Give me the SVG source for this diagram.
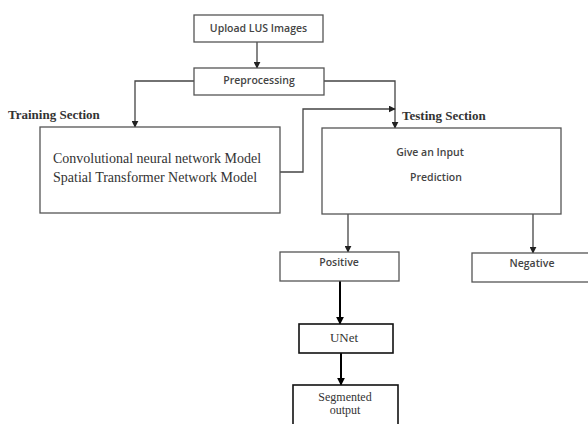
<svg xmlns="http://www.w3.org/2000/svg" width="588" height="424" viewBox="0 0 588 424">
<defs>
<marker id="ah" viewBox="0 0 10 10" refX="9" refY="5" markerWidth="7" markerHeight="7" markerUnits="userSpaceOnUse" orient="auto">
<path d="M0,0 L10,5 L0,10 Z" fill="#222"/>
</marker>
<marker id="ahb" viewBox="0 0 10 10" refX="9" refY="5" markerWidth="8" markerHeight="8" markerUnits="userSpaceOnUse" orient="auto">
<path d="M0,0 L10,5 L0,10 Z" fill="#000"/>
</marker>
<style>
.box{fill:#fff;stroke:#555;stroke-width:1.3}
.bbox{fill:#fff;stroke:#111;stroke-width:1.6}
.sans{font-family:"Open Sans","Liberation Sans",sans-serif;font-size:10.5px;fill:#444;text-anchor:middle;font-weight:600}
.serif{font-family:"Liberation Serif","Times New Roman",serif;fill:#333}
.lbl{font-size:13px;font-weight:bold}
.big{font-size:14px}
.small{font-size:12px;text-anchor:middle}
.conn{fill:none;stroke:#444;stroke-width:1.3}
.connb{fill:none;stroke:#000;stroke-width:2}
</style>
</defs>
<rect width="588" height="424" fill="#fff"/>
<g id="connectors">
<path class="conn" d="M257,42 V68" marker-end="url(#ah)"/>
<path class="conn" d="M194,81 H135 V127" marker-end="url(#ah)"/>
<path class="conn" d="M324,81 H395 V128" marker-end="url(#ah)"/>
<path class="conn" d="M280,172 H303 V109 H395" marker-end="url(#ah)"/>
<path class="conn" d="M348,214 V252" marker-end="url(#ah)"/>
<path class="conn" d="M533,214 V253" marker-end="url(#ah)"/>
<path class="connb" d="M340,281 V324" marker-end="url(#ahb)"/>
<path class="connb" d="M341,353 V385" marker-end="url(#ahb)"/>
</g>
<g id="upload">
<rect class="box" x="194" y="15" width="129" height="27"/>
<text class="sans" x="258.5" y="32">Upload LUS Images</text>
</g>
<g id="preprocessing">
<rect class="box" x="194" y="68" width="130" height="27"/>
<text class="sans" x="259" y="84">Preprocessing</text>
</g>
<g id="training-label">
<text class="serif lbl" x="8" y="119">Training Section</text>
</g>
<g id="testing-label">
<text class="serif lbl" x="402" y="120">Testing Section</text>
</g>
<g id="training">
<rect class="box" x="40" y="127" width="240" height="86"/>
<text class="serif big" x="53" y="163">Convolutional neural network Model</text>
<text class="serif big" x="53" y="182">Spatial Transformer Network Model</text>
</g>
<g id="testing">
<rect class="box" x="322" y="128" width="239" height="86"/>
<text class="sans" x="430" y="156">Give an Input</text>
<text class="sans" x="436" y="181">Prediction</text>
</g>
<g id="positive">
<rect class="box" x="280" y="252" width="119" height="29"/>
<text class="sans" x="339" y="266">Positive</text>
</g>
<g id="negative">
<rect class="box" x="472" y="253" width="120" height="29"/>
<text class="sans" x="532" y="267">Negative</text>
</g>
<g id="unet">
<rect class="bbox" x="299" y="324" width="94" height="29"/>
<text class="serif" x="344" y="342" font-size="13" text-anchor="middle">UNet</text>
</g>
<g id="segmented">
<rect class="bbox" x="293" y="385" width="105" height="45"/>
<text class="serif small" x="345" y="401">Segmented</text>
<text class="serif small" x="345" y="414">output</text>
</g>
</svg>
